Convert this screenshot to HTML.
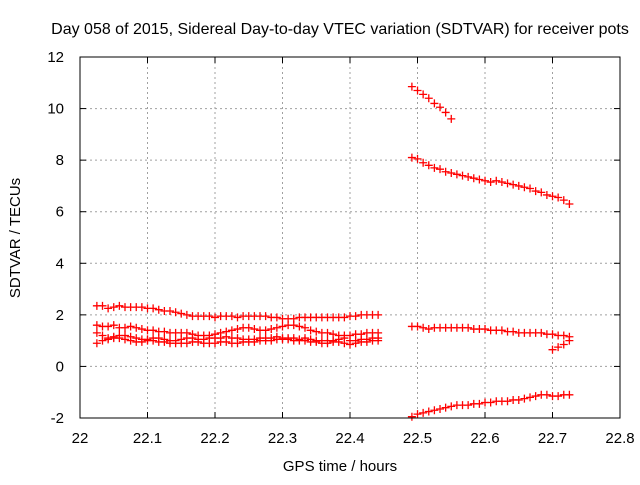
<!DOCTYPE html>
<html><head><meta charset="utf-8"><style>
body{margin:0;background:#fff}
svg text{font-family:"Liberation Sans",sans-serif;font-size:15px;fill:#000}
</style></head><body>
<svg width="640" height="480" xmlns="http://www.w3.org/2000/svg">
<text x="340" y="34" text-anchor="middle" style="font-size:16px">Day 058 of 2015, Sidereal Day-to-day VTEC variation (SDTVAR) for receiver pots</text>
<g id="grid"></g>
<g id="axes"></g>
<g id="marks"></g>
<rect x="80" y="57" width="540" height="361" fill="none" stroke="#000"/>
<text x="340" y="471" text-anchor="middle">GPS time / hours</text>
<text transform="translate(20,238) rotate(-90)" text-anchor="middle">SDTVAR / TECUs</text>
</svg>
<script>
const xTicks=[22,22.1,22.2,22.3,22.4,22.5,22.6,22.7,22.8];
const yTicks=[-2,0,2,4,6,8,10,12];
const leftStart=22.025, rightStart=22.4917, step=1/120;
const left1=[2.35,2.35,2.25,2.3,2.35,2.3,2.3,2.3,2.3,2.25,2.25,2.2,2.15,2.15,2.1,2.05,2.0,1.95,1.95,1.95,1.95,1.9,1.95,1.95,1.95,1.9,1.95,1.95,1.95,1.95,1.95,1.9,1.9,1.85,1.85,1.85,1.9,1.9,1.9,1.9,1.9,1.9,1.9,1.9,1.9,1.95,1.95,2.0,2.0,2.0,2.0];
const left2=[1.6,1.55,1.55,1.6,1.5,1.5,1.55,1.5,1.45,1.4,1.4,1.35,1.35,1.3,1.3,1.3,1.3,1.25,1.2,1.2,1.2,1.25,1.3,1.35,1.4,1.45,1.5,1.5,1.45,1.4,1.4,1.45,1.5,1.55,1.6,1.6,1.55,1.5,1.4,1.35,1.3,1.3,1.25,1.2,1.2,1.2,1.25,1.25,1.3,1.3,1.3];
const left3=[1.3,1.2,1.1,1.15,1.2,1.2,1.15,1.1,1.05,1.05,1.1,1.1,1.05,1.0,1.0,1.05,1.1,1.1,1.05,1.05,1.1,1.1,1.1,1.15,1.1,1.1,1.05,1.05,1.05,1.1,1.1,1.1,1.15,1.1,1.1,1.1,1.05,1.1,1.05,1.0,1.0,1.0,1.0,1.05,1.1,1.0,1.0,1.05,1.05,1.1,1.1];
const left4=[0.9,1.0,1.05,1.1,1.1,1.05,1.0,0.95,0.95,1.0,1.0,0.95,0.95,0.9,0.9,0.9,0.9,0.95,0.95,0.9,0.9,0.9,0.95,0.95,0.9,0.9,0.95,0.95,0.95,1.0,1.0,1.0,1.05,1.05,1.05,1.0,1.0,1.0,0.95,0.95,0.9,0.9,0.95,0.95,0.9,0.85,0.9,0.95,0.95,1.0,1.0];
const right1=[10.85,10.7,10.55,10.4,10.2,10.05,9.85,9.6];
const right2=[8.1,8.05,7.9,7.8,7.7,7.65,7.55,7.5,7.45,7.4,7.35,7.3,7.25,7.2,7.15,7.2,7.15,7.1,7.05,7.0,6.95,6.9,6.8,6.75,6.65,6.6,6.55,6.45,6.3];
const right3=[1.55,1.55,1.5,1.45,1.5,1.5,1.5,1.5,1.5,1.5,1.5,1.45,1.45,1.45,1.4,1.4,1.4,1.35,1.35,1.3,1.3,1.3,1.3,1.3,1.25,1.25,1.2,1.2,1.15];
const right4=[0.65,0.75,0.85,1.0];
const right4Start=22.7;
const right5=[-1.95,-1.85,-1.8,-1.75,-1.7,-1.65,-1.6,-1.55,-1.5,-1.5,-1.5,-1.45,-1.45,-1.4,-1.4,-1.35,-1.35,-1.35,-1.3,-1.3,-1.25,-1.2,-1.15,-1.1,-1.1,-1.15,-1.15,-1.1,-1.1];
const NS="http://www.w3.org/2000/svg";
const X=v=>80+(v-22)/0.8*540, Y=v=>418-(v+2)/14*361;
function mk(t,a,p){const e=document.createElementNS(NS,t);for(const k in a)e.setAttribute(k,a[k]);p.appendChild(e);return e;}
const grid=document.getElementById('grid'),axes=document.getElementById('axes'),marks=document.getElementById('marks');
xTicks.forEach(v=>{const x=X(v);
 if(v>22&&v<22.8){const l=mk('line',{x1:x,x2:x,y1:57,y2:418,stroke:'#a0a0a0','stroke-dasharray':'2,3'},grid);}
 mk('line',{x1:x,x2:x,y1:418,y2:412,stroke:'#000'},axes);mk('line',{x1:x,x2:x,y1:57,y2:63,stroke:'#000'},axes);
 const t=mk('text',{x:x,y:443,'text-anchor':'middle'},axes);t.textContent=String(v);
 });
yTicks.forEach(v=>{const y=Y(v);
 if(v>-2&&v<12){const l=mk('line',{x1:80,x2:620,y1:y,y2:y,stroke:'#a0a0a0','stroke-dasharray':'2,3'},grid);}
 mk('line',{x1:80,x2:86,y1:y,y2:y,stroke:'#000'},axes);mk('line',{x1:620,x2:614,y1:y,y2:y,stroke:'#000'},axes);
 const t=mk('text',{x:64,y:y+5,'text-anchor':'end'},axes);t.textContent=String(v);
 });
function plot(arr,start){arr.forEach((v,i)=>{const x=X(start+i*step),y=Y(v);
 const p=mk('path',{d:`M${x-4},${y}H${x+4}M${x},${y-4}V${y+4}`,stroke:'#f00','stroke-width':1.3,fill:'none'},marks);
 });}
[left1,left2,left3,left4].forEach(a=>plot(a,leftStart));
[right1,right2,right3,right5].forEach(a=>plot(a,rightStart));
plot(right4,right4Start);
</script>
</body></html>
